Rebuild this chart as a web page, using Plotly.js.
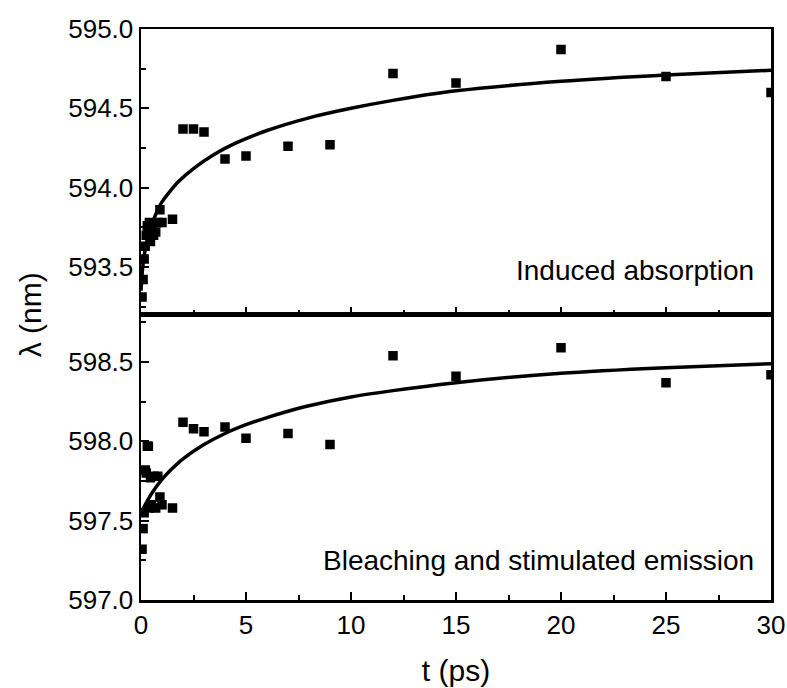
<!DOCTYPE html>
<html>
<head>
<meta charset="utf-8">
<script src="https://cdn.plot.ly/plotly-3.0.1.min.js"></script>
<style>body{margin:0;background:#fff}#chart{width:787px;height:688px}</style>
</head>
<body>
<div id="chart"></div>
<script>
// Top panel: Induced absorption
const absT = [0.05, 0.1, 0.15, 0.2, 0.25, 0.3, 0.35, 0.4, 0.45, 0.5, 0.6, 0.7, 0.8, 0.9, 1.0, 1.5, 2, 2.5, 3, 4, 5, 7, 9, 12, 15, 20, 25, 30];
const absV = [593.31, 593.42, 593.55, 593.63, 593.70, 593.76, 593.72, 593.78, 593.66, 593.75, 593.70, 593.72, 593.78, 593.86, 593.78, 593.80, 594.37, 594.37, 594.35, 594.18, 594.20, 594.26, 594.27, 594.72, 594.66, 594.87, 594.70, 594.60];
const absFitT = [0, 0.05, 0.1, 0.2, 0.35, 0.5, 0.7, 1, 1.4, 1.8, 2.5, 3.5, 4.5, 6, 8, 10, 12, 15, 20, 25, 30];
const absFitV = [593.35, 593.45, 593.52, 593.61, 593.70, 593.76, 593.83, 593.91, 593.98, 594.04, 594.12, 594.21, 594.28, 594.36, 594.44, 594.50, 594.55, 594.61, 594.67, 594.71, 594.74];

// Bottom panel: Bleaching and stimulated emission
const bleT = [0.05, 0.1, 0.15, 0.2, 0.25, 0.3, 0.35, 0.4, 0.45, 0.5, 0.6, 0.7, 0.8, 0.9, 1.0, 1.5, 2, 2.5, 3, 4, 5, 7, 9, 12, 15, 20, 25, 30];
const bleV = [597.32, 597.45, 597.55, 597.82, 597.80, 597.97, 597.97, 597.58, 597.77, 597.60, 597.78, 597.58, 597.78, 597.65, 597.60, 597.58, 598.12, 598.08, 598.06, 598.09, 598.02, 598.05, 597.98, 598.54, 598.41, 598.59, 598.37, 598.42];
const bleFitT = [0, 0.5, 1, 1.5, 2, 3, 4, 5, 6, 7, 8, 10, 12, 15, 20, 25, 30];
const bleFitV = [597.55, 597.67, 597.76, 597.83, 597.89, 597.98, 598.05, 598.105, 598.15, 598.19, 598.225, 598.28, 598.32, 598.37, 598.43, 598.465, 598.49];

const xTickVals = [0, 5, 10, 15, 20, 25, 30];
const labelTop = 'Induced absorption';
const labelBottom = 'Bleaching and stimulated emission';
const xTitle = 't (ps)';
const yTitle = 'λ (nm)';

const FONT = 'Liberation Sans, Arial, sans-serif';
const markerStyle = {symbol: 'square', size: 9.5, color: '#000'};
const lineStyle = {color: '#000', width: 3.5, shape: 'spline', smoothing: 0.8};

const traces = [
  {x: absFitT, y: absFitV, xaxis: 'x2', yaxis: 'y2', mode: 'lines', line: lineStyle, hoverinfo: 'skip'},
  {x: absT, y: absV, xaxis: 'x2', yaxis: 'y2', mode: 'markers', marker: markerStyle},
  {x: bleFitT, y: bleFitV, xaxis: 'x', yaxis: 'y', mode: 'lines', line: lineStyle, hoverinfo: 'skip'},
  {x: bleT, y: bleV, xaxis: 'x', yaxis: 'y', mode: 'markers', marker: markerStyle}
];

const axCommon = {
  showgrid: false, zeroline: false, showline: true, linecolor: '#000', linewidth: 2.5,
  mirror: true, ticks: 'inside', ticklen: 8, tickwidth: 2, tickcolor: '#000',
  tickfont: {family: FONT, size: 26, color: '#000'}
};

const layout = {
  width: 787, height: 688,
  margin: {l: 141, r: 16, t: 29, b: 88},
  paper_bgcolor: '#fff', plot_bgcolor: '#fff',
  showlegend: false,
  xaxis: Object.assign({}, axCommon, {
    domain: [0, 1], anchor: 'y', range: [0, 30], tickvals: xTickVals,
    minor: {ticks: 'inside', dtick: 2.5, ticklen: 5, tickwidth: 2, tickcolor: '#000'},
    title: {text: xTitle, font: {family: FONT, size: 30, color: '#000'}, standoff: 22}
  }),
  yaxis: Object.assign({}, axCommon, {
    domain: [0, 0.5], anchor: 'x', range: [597.0, 598.8], dtick: 0.5, tick0: 597.0, tickformat: '.1f',
    minor: {ticks: 'inside', dtick: 0.25, tick0: 597.0, ticklen: 5, tickwidth: 2, tickcolor: '#000'}
  }),
  xaxis2: Object.assign({}, axCommon, {
    domain: [0, 1], anchor: 'y2', range: [0, 30], tickvals: xTickVals, showticklabels: false,
    minor: {ticks: 'inside', dtick: 2.5, ticklen: 5, tickwidth: 2, tickcolor: '#000'}
  }),
  yaxis2: Object.assign({}, axCommon, {
    domain: [0.5, 1], anchor: 'x2', range: [593.2, 595.0], dtick: 0.5, tick0: 593.5, tickformat: '.1f',
    minor: {ticks: 'inside', dtick: 0.25, tick0: 593.25, ticklen: 5, tickwidth: 2, tickcolor: '#000'}
  }),
  annotations: [
    {text: labelTop, xref: 'x2', yref: 'y2', x: 29.3, y: 593.48, xanchor: 'right', yanchor: 'middle',
     showarrow: false, font: {family: FONT, size: 28, color: '#000'}},
    {text: labelBottom, xref: 'x', yref: 'y', x: 29.3, y: 597.25, xanchor: 'right', yanchor: 'middle',
     showarrow: false, font: {family: FONT, size: 28, color: '#000'}},
    {text: yTitle, xref: 'paper', yref: 'paper', x: -0.175, y: 0.5, xanchor: 'center', yanchor: 'middle',
     textangle: -90, showarrow: false, font: {family: FONT, size: 30, color: '#000'}}
  ]
};

Plotly.newPlot('chart', traces, layout, {displayModeBar: false, staticPlot: true});
</script>
</body>
</html>
